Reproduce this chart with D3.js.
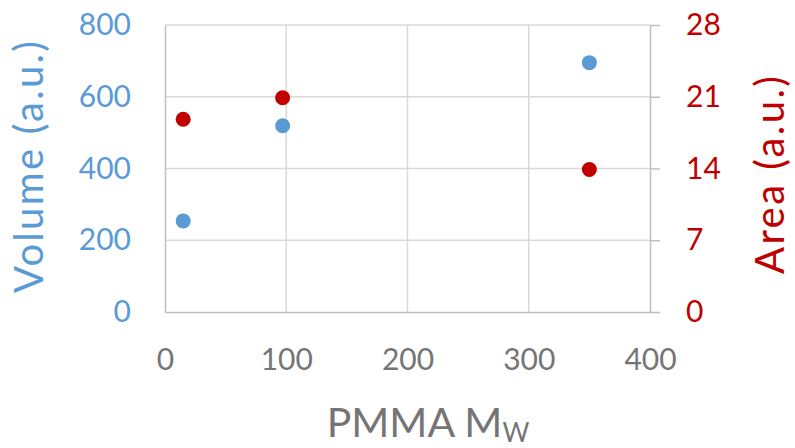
<!DOCTYPE html>
<html>
<head>
<meta charset="utf-8">
<script src="https://cdn.jsdelivr.net/npm/d3@7"></script>
<style>
  html, body { margin: 0; padding: 0; background: #fff; }
  svg { display: block; font-family: Lato, "Open Sans", sans-serif; }
</style>
</head>
<body>
<svg id="chart" width="795" height="448"></svg>
<script>
// PMMA molecular weight samples
const mw = [15, 97, 350];
// Volume (left axis) and Area (right axis)
const volume = [254, 519, 695];
const area = [18.8, 20.9, 13.9];

const xTicks = [0, 100, 200, 300, 400];
const volTicks = [0, 200, 400, 600, 800];
const areaTicks = [0, 7, 14, 21, 28];

const blue = "#5B9BD5";
const red = "#C00000";
const grey = "#757575";

const svg = d3.select("#chart");
const m = { left: 165, right: 650, top: 25, bottom: 312 };

const x = d3.scaleLinear().domain([0, 400]).range([m.left, m.right]);
const yL = d3.scaleLinear().domain([0, 800]).range([m.bottom, m.top]);
const yR = d3.scaleLinear().domain([0, 28]).range([m.bottom, m.top]);

// gridlines
const grid = svg.append("g");
grid.selectAll("line.h").data(volTicks.slice(1)).join("line")
  .attr("x1", m.left).attr("x2", m.right)
  .attr("y1", d => yL(d)).attr("y2", d => yL(d))
  .attr("stroke", "#D9D9D9").attr("stroke-width", 1.5);
grid.selectAll("line.v").data(xTicks.slice(1, -1)).join("line")
  .attr("x1", d => x(d)).attr("x2", d => x(d))
  .attr("y1", m.top).attr("y2", m.bottom)
  .attr("stroke", "#D9D9D9").attr("stroke-width", 1.5);

// left axis (labels only, plain line)
const left = svg.append("g").attr("transform", `translate(${m.left},0)`)
  .call(d3.axisLeft(yL).tickValues(volTicks).tickSize(0).tickPadding(34));
left.select(".domain").attr("stroke", "#BFBFBF").attr("stroke-width", 1.5);
left.selectAll("text").attr("fill", blue).style("font-size", "30px");

// right axis with outward ticks
const right = svg.append("g").attr("transform", `translate(${m.right},0)`)
  .call(d3.axisRight(yR).tickValues(areaTicks).tickSize(10).tickPadding(26).tickSizeOuter(0));
right.select(".domain").attr("stroke", "#BFBFBF").attr("stroke-width", 1.5);
right.selectAll(".tick line").attr("stroke", "#BFBFBF").attr("stroke-width", 1.5);
right.selectAll("text").attr("fill", red).style("font-size", "30px");

// bottom axis
const bottom = svg.append("g").attr("transform", `translate(0,${m.bottom})`)
  .call(d3.axisBottom(x).tickValues(xTicks).tickSize(0).tickPadding(37));
bottom.select(".domain").attr("stroke", "#BFBFBF").attr("stroke-width", 1.5);
bottom.selectAll("text").attr("fill", grey).style("font-size", "30px");

svg.selectAll("g").attr("font-family", null);

// data points
svg.append("g").selectAll("circle").data(mw).join("circle")
  .attr("cx", d => x(d)).attr("cy", (d, i) => yL(volume[i]))
  .attr("r", 7.5).attr("fill", blue);
svg.append("g").selectAll("circle").data(mw).join("circle")
  .attr("cx", d => x(d)).attr("cy", (d, i) => yR(area[i]))
  .attr("r", 7.5).attr("fill", red);

// axis titles
svg.append("text")
  .attr("transform", "translate(43,167) rotate(-90)")
  .attr("text-anchor", "middle").attr("fill", blue)
  .attr("textLength", 252).attr("lengthAdjust", "spacing")
  .style("font-size", "40px").text("Volume (a.u.)");
svg.append("text")
  .attr("transform", "translate(784,175) rotate(-90)")
  .attr("text-anchor", "middle").attr("fill", red)
  .attr("textLength", 198).attr("lengthAdjust", "spacing")
  .style("font-size", "40px").text("Area (a.u.)");
const xt = svg.append("text")
  .attr("x", 428).attr("y", 437)
  .attr("text-anchor", "middle").attr("fill", grey)
  .style("font-size", "41px");
xt.append("tspan").text("PMMA M");
xt.append("tspan").attr("dy", 5).style("font-size", "26px").text("W");
</script>
</body>
</html>
